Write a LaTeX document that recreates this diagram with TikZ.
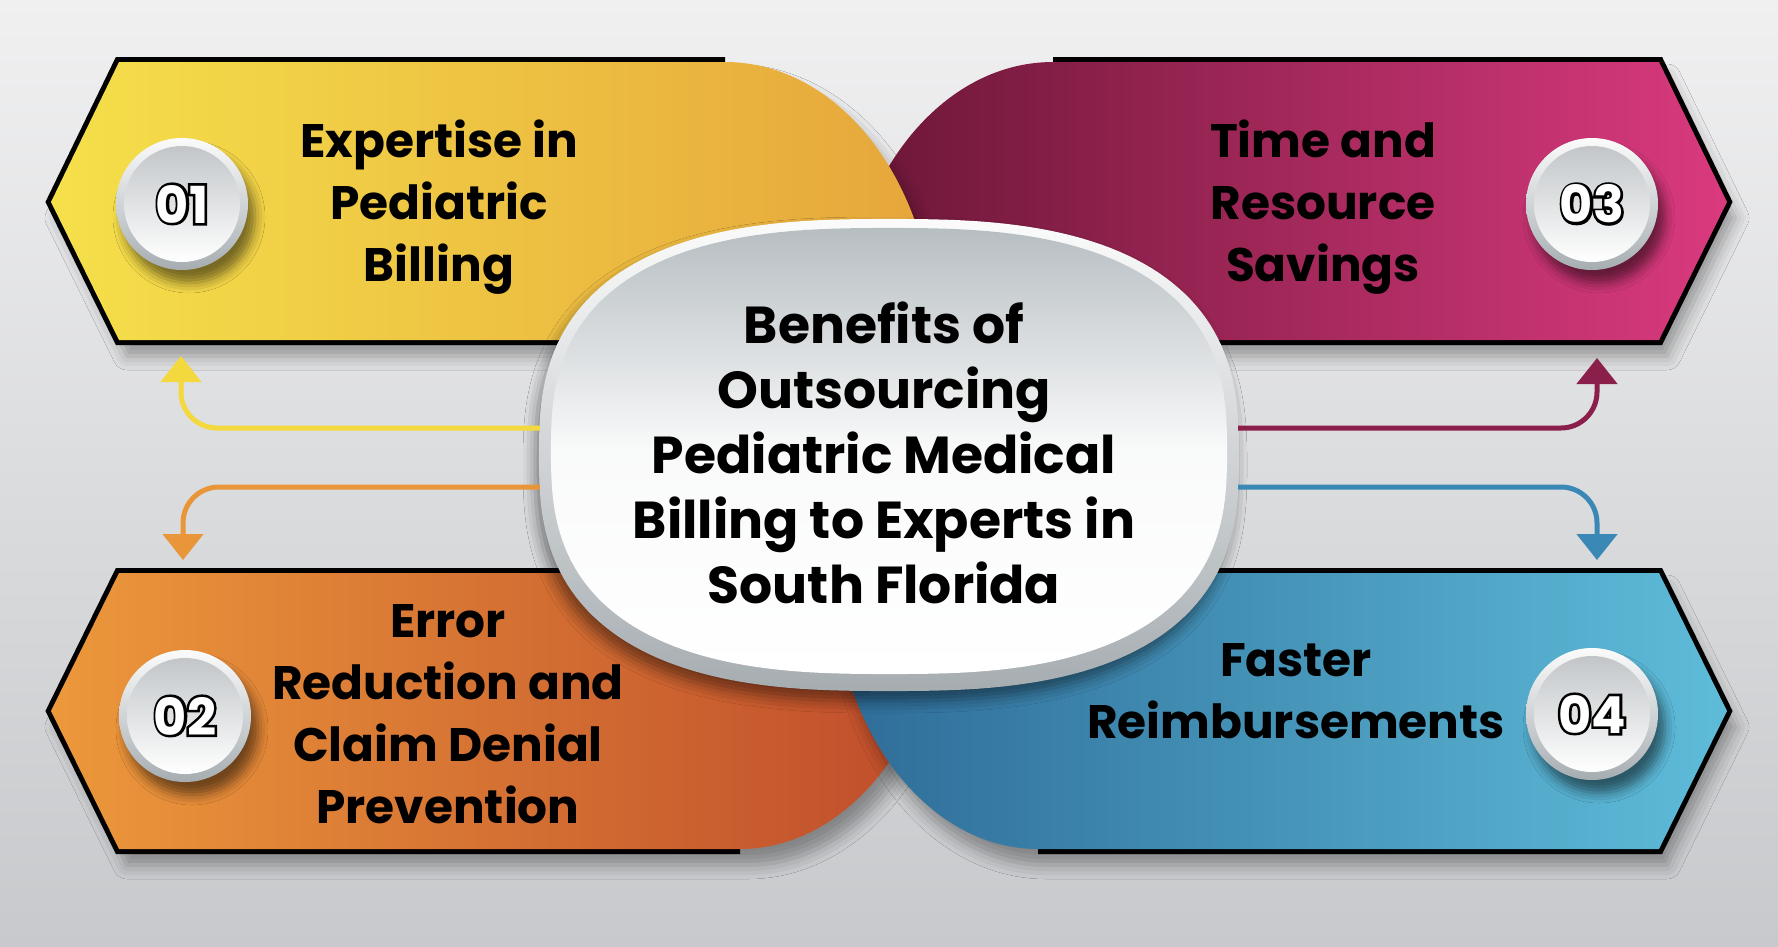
\documentclass[tikz,border=0pt]{standalone}
\usepackage{fontspec}
\setmainfont{Poppins}
\newfontfamily\numfat[FakeBold=10]{Poppins Bold}
\newfontfamily\numthin{Poppins Bold}
\usetikzlibrary{arrows.meta,calc,shadows.blur}

\definecolor{bgtop}{HTML}{F0F0F1}
\definecolor{bgbot}{HTML}{C7C9CC}
\definecolor{yelA}{HTML}{F5E04A}
\definecolor{yelB}{HTML}{E6A53B}
\definecolor{magA}{HTML}{6A1636}
\definecolor{magB}{HTML}{DA3A7E}
\definecolor{orgA}{HTML}{EC983B}
\definecolor{orgB}{HTML}{BE4B2B}
\definecolor{bluA}{HTML}{2E6C98}
\definecolor{bluB}{HTML}{5EBCD9}
\definecolor{arrY}{HTML}{F3D83E}
\definecolor{arrO}{HTML}{E9963A}
\definecolor{arrM}{HTML}{8A1F4C}
\definecolor{arrB}{HTML}{3A88B6}
\definecolor{rimtop}{HTML}{FBFBFB}
\definecolor{rimbot}{HTML}{A6ADB1}
\definecolor{hubtop}{HTML}{B7BEC2}
\definecolor{disctop}{HTML}{C2C6C9}

\tikzset{
  boxedge/.style={draw=black, line width=10pt, line join=miter},
  boxshade/.style={blur shadow={shadow xshift=8pt, shadow yshift=-16pt, shadow opacity=35, shadow blur radius=14pt}},
  labtext/.style={font=\fontsize{47}{62}\selectfont\bfseries, align=center, text=black},
  hubtext/.style={font=\fontsize{52}{65}\selectfont\bfseries, align=center, minimum width=700pt, minimum height=470pt, inner sep=0pt},
  numtext/.style={font=\fontsize{51}{51}\selectfont, inner sep=0pt},
  flow/.style={line width=5pt, rounded corners=36pt, -{Triangle[width=40pt,length=26pt]}},
}

% squircle: x, y, half width, half height
\newcommand{\squircle}[4]{plot[domain=1:361, samples=181, variable=\t] ({#1+#3*sign(cos(\t))*pow(abs(cos(\t)),0.75)}, {#2+#4*sign(sin(\t))*pow(abs(sin(\t)),0.75)}) -- cycle}

% badge: centre, text
\newcommand{\numbadge}[2]{%
  \path[blur shadow={shadow xshift=7pt, shadow yshift=-13pt, shadow opacity=50, shadow blur radius=10pt}, top color=rimtop, bottom color=rimbot] (#1) circle (66pt);
  \shade[top color=disctop, bottom color=white] (#1) circle (58pt);
  \node[numtext, text=black] (o#1) at (#1) {\numfat #2};
  \node[numtext, text=white] (n#1) at (#1) {\numthin #2};}

\begin{document}
\begin{tikzpicture}[x=1pt, y=-1pt]
  \useasboundingbox (0,0) rectangle (1778,946);
  \shade[top color=bgtop, bottom color=bgbot] (0,0) rectangle (1778,946);

  % upper boxes
  \draw[boxedge] (1053,62) -- (1659,62) -- (1727,202) -- (1659,340) -- (1180,340);
  \path[boxshade, left color=magA, right color=magB] (1727,202) -- (1659,62) -- (1053,62) .. controls (937,62) and (843,186) .. (843,340) -- (1659,340) -- cycle;
  \draw[boxedge] (725,62) -- (119,62) -- (51,202) -- (119,340) -- (600,340);
  \path[boxshade, left color=yelA, right color=yelB] (51,202) -- (119,62) -- (725,62) .. controls (841,62) and (935,186) .. (935,340) -- (119,340) -- cycle;

  % lower boxes
  \draw[boxedge] (600,573) -- (119,573) -- (51,711) -- (119,849) -- (740,849);
  \path[boxshade, left color=orgA, right color=orgB] (51,711) -- (119,573) -- (945,573) .. controls (945,725) and (853,849) .. (740,849) -- (119,849) -- cycle;
  \draw[boxedge] (1180,573) -- (1659,573) -- (1727,711) -- (1659,849) -- (1038,849);
  \path[boxshade, left color=bluA, right color=bluB] (1727,711) -- (1659,573) -- (833,573) .. controls (833,725) and (925,849) .. (1038,849) -- (1659,849) -- cycle;

  % badges
  \coordinate (c1) at (182,204);\coordinate (c2) at (185,716);
  \coordinate (c3) at (1592,204);\coordinate (c4) at (1592,714);
  \numbadge{c1}{01}\numbadge{c2}{02}\numbadge{c3}{03}\numbadge{c4}{04}

  % labels
  \node[labtext] (lab1) at (439,207) {Expertise in\\Pediatric\\Billing};
  \node[labtext] (lab2) at (448,714) {Error\\Reduction and\\Claim Denial\\Prevention};
  \node[labtext] (lab3) at (1323,207) {Time and\\Resource\\Savings};
  \node[labtext] (lab4) at (1296,691) {Faster\\Reimbursements};

  % hub
  \path[blur shadow={shadow xshift=-4pt, shadow yshift=-10pt, shadow opacity=45, shadow blur radius=12pt}, top color=rimtop, bottom color=rimbot] \squircle{889}{455}{350}{236};
  \path[top color=hubtop, bottom color=white, middle color=white!92!hubtop] \squircle{889}{451}{338}{223};
  \node[hubtext] (hub) at (884,453) {Benefits of\\Outsourcing\\Pediatric Medical\\Billing to Experts in\\South Florida};

  % arrows
  \coordinate (tip1) at (181,356);\coordinate (tip2) at (183,560);
  \coordinate (tip3) at (1597,358);\coordinate (tip4) at (1597,560);
  \draw[flow, draw=arrY] ($(hub.west)+(6,-25)$) -| (tip1);
  \draw[flow, draw=arrO] ($(hub.west)+(6,34)$) -| (tip2);
  \draw[flow, draw=arrM] ($(hub.east)+(4,-25)$) -| (tip3);
  \draw[flow, draw=arrB] ($(hub.east)+(4,34)$) -| (tip4);
\end{tikzpicture}
\end{document}
